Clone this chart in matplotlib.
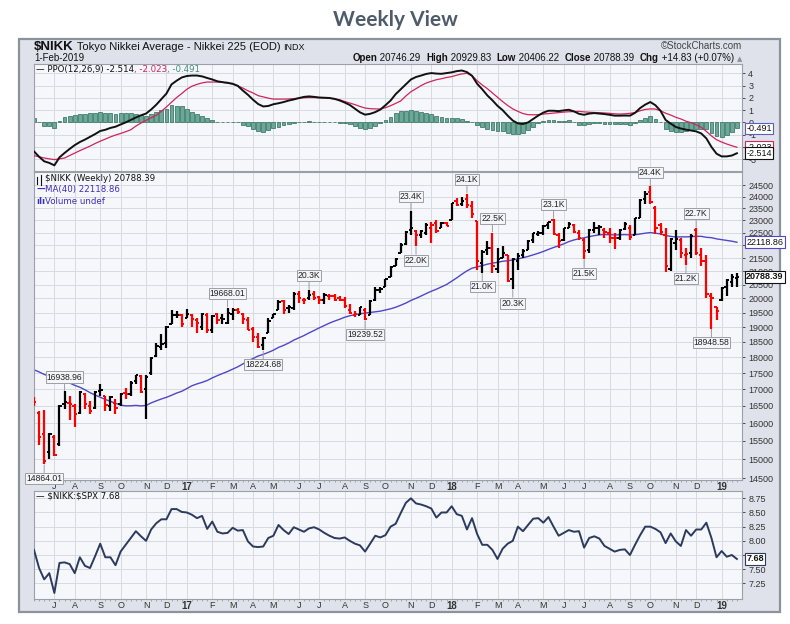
import numpy as np
import pandas as pd
import matplotlib
matplotlib.use('Agg')
import matplotlib.pyplot as plt
from matplotlib.offsetbox import TextArea, HPacker, AnchoredOffsetbox
from matplotlib.ticker import FixedLocator, NullLocator
from matplotlib.patches import Rectangle

plt.rcParams['font.family'] = ['Liberation Sans', 'DejaVu Sans']

# ---------------- data ----------------
week_start = pd.date_range('2016-06-06', periods=139, freq='7D')

prior_closes = [18264, 18070, 17880, 17725, 18438, 18291, 18825, 19083, 19265, 19597,
                19879, 19883, 19504, 19230, 18986, 18769, 19033, 17697, 17147, 16958,
                17518, 16819, 14952, 15967, 16188, 17014, 16938, 16724, 17002, 16164,
                15821, 16848, 17572, 16666, 16106, 16412, 16736, 16834, 16642]

opens = [16700, 16300, 15700, 15200, 15600, 15400, 16550, 16600, 16500, 16300,
         16850, 16500, 16450, 16950, 16800, 16500, 16600, 16550, 16900, 16850,
         17250, 17400, 17000, 17500, 18050, 18350, 18450, 19100, 19400, 19400,
         19300, 19400, 19250, 19000, 19400, 18900, 19450, 19300, 19150, 19450,
         19600, 19450, 19250, 18950, 18650, 18400, 18800, 19300, 19600, 19900,
         19650, 19650, 20150, 19950, 20000, 20150, 20050, 19950, 20100, 20100,
         20000, 19950, 19600, 19400, 19400, 19600, 19400, 19950, 20300, 20400,
         20800, 21200, 21700, 22050, 22600, 22550, 22400, 22500, 22700, 22900,
         22700, 22900, 23000, 23800, 23700, 23900, 23600, 22970, 21300, 21800,
         21900, 21100, 21500, 21600, 20700, 21400, 21600, 21800, 22200, 22450,
         22500, 22800, 23000, 22400, 22200, 22700, 22800, 22500, 22200, 21800,
         22600, 22700, 22600, 22500, 22300, 22300, 22650, 22700, 22400, 23100,
         23900, 24200, 23500, 22800, 22400, 21100, 22100, 22200, 21600, 21700,
         22600, 21600, 21400, 20100, 19700, 19950, 20400, 20600, 20746.29]
highs = [16750, 16350, 16390, 15730, 15650, 16530, 16938.96, 16800, 16550, 16950,
         16900, 16650, 16950, 17150, 16800, 16800, 16700, 16900, 17050, 17250,
         17450, 17450, 17450, 18000, 18450, 18750, 19050, 19590, 19550, 19450,
         19615, 19450, 19300, 19500, 19500, 19400, 19500, 19450, 19668.01, 19650,
         19650, 19500, 19350, 19000, 18800, 18650, 19300, 19450, 19950, 19950,
         19750, 20240, 20250, 20000, 20300, 20250, 20100, 20200, 20150, 20150,
         20100, 20050, 19800, 19550, 19700, 19650, 19950, 20400, 20400, 20700,
         21200, 21500, 22100, 22550, 23382, 22600, 22600, 22900, 22950, 23000,
         22950, 22950, 23730, 23950, 24000, 24129, 23800, 22970, 21800, 22150,
         22502, 21900, 21970, 21600, 21500, 21700, 21850, 22200, 22500, 22550,
         22800, 22950, 23050, 22500, 22700, 22950, 22850, 22600, 22300, 22650,
         22950, 22800, 22700, 22700, 22500, 22650, 22950, 22800, 23100, 23900,
         24250, 24448, 23600, 22900, 22700, 22300, 22600, 22300, 21900, 22450,
         22698, 21900, 21600, 20200, 19700, 20400, 20700, 20900, 20929.83]
lows = [16500, 15380, 14864.01, 15000, 15080, 15350, 16400, 16100, 15900, 16250,
        16400, 16260, 16400, 16800, 16350, 16350, 16250, 16500, 16700, 16800,
        17150, 16900, 16111, 17450, 18000, 18250, 18300, 19100, 19300, 19000,
        19300, 19000, 18800, 18900, 18800, 18800, 19100, 19100, 19100, 19250,
        19450, 19100, 18900, 18500, 18300, 18224.68, 18800, 19300, 19600, 19450,
        19500, 19600, 19850, 19800, 19950, 19950, 19800, 19800, 19950, 19900,
        19900, 19650, 19450, 19350, 19400, 19239.52, 19400, 19900, 20200, 20400,
        20800, 21200, 21700, 22000, 22400, 21972, 22300, 22400, 22100, 22500,
        22700, 22750, 23000, 23600, 23600, 23500, 23100, 21060, 20950, 21600,
        20940, 20937, 21500, 20600, 20347, 21050, 21500, 21800, 22100, 22350,
        22400, 22650, 22400, 21900, 22150, 22700, 22500, 22200, 21462, 21700,
        22500, 22400, 22300, 22100, 21850, 22200, 22600, 22200, 22400, 23100,
        23700, 23700, 22450, 22400, 20971, 21000, 21800, 21500, 21244, 21500,
        21600, 21200, 20000, 18948.58, 19250, 19900, 20100, 20400, 20406.22]
closes = [16601, 15600, 14952, 15682, 15106, 16497, 16627, 16569, 16254, 16919,
          16545, 16360, 16925, 16965, 16519, 16754, 16450, 16860, 16856, 17184,
          17446, 16905, 17374, 17967, 18381, 18426, 18996, 19401, 19427, 19114,
          19454, 19287, 19137, 19467, 18918, 19378, 19234, 19283, 19469, 19604,
          19521, 19262, 18909, 18664, 18335, 18620, 19197, 19445, 19883, 19590,
          19687, 20177, 20013, 19943, 20132, 20033, 19929, 20118, 20099, 19959,
          19952, 19729, 19470, 19452, 19691, 19274, 19909, 20296, 20356, 20690,
          21155, 21457, 22008, 22539, 22681, 22397, 22550, 22819, 22811, 22553,
          22902, 22765, 23714, 23653, 23808, 23632, 23274, 21383, 21720, 21893,
          21182, 21469, 21676, 20617, 21454, 21567, 21778, 22162, 22467, 22472,
          22758, 22930, 22450, 22171, 22694, 22851, 22516, 22304, 21788, 22597,
          22697, 22712, 22525, 22298, 22270, 22601, 22865, 22307, 23094, 23870,
          24120, 23784, 22694, 22532, 21184, 22243, 22250, 21680, 21646, 22351,
          21679, 21374, 20166, 20015, 19561, 20359, 20666, 20773.56, 20788.39]

# PPO(12,26,9) line and its signal line
ppo_line = [-2.36, -2.80, -3.17, -3.30, -3.50, -2.85, -2.49, -2.16, -1.85, -1.60,
            -1.40, -1.18, -0.95, -0.70, -0.60, -0.45, -0.35, -0.17, 0.00, 0.20,
            0.40, 0.58, 0.72, 1.05, 1.44, 1.90, 2.35, 3.10, 3.40, 3.66,
            3.78, 3.82, 3.82, 3.75, 3.62, 3.50, 3.35, 3.28, 3.23, 3.15,
            2.98, 2.60, 2.25, 1.85, 1.50, 1.30, 1.34, 1.48, 1.56, 1.66,
            1.78, 1.87, 1.98, 2.08, 2.12, 2.08, 2.03, 2.01, 1.99, 1.92,
            1.79, 1.62, 1.42, 1.12, 0.82, 0.63, 0.70, 0.84, 1.05, 1.40,
            1.78, 2.30, 2.70, 3.10, 3.50, 3.70, 3.82, 3.95, 4.02, 3.98,
            3.96, 4.02, 4.08, 4.18, 4.23, 4.10, 3.80, 3.15, 2.70, 2.20,
            1.80, 1.35, 1.00, 0.55, 0.15, -0.08, -0.13, 0.00, 0.28, 0.56,
            0.80, 0.95, 0.95, 0.92, 0.98, 1.03, 0.90, 0.70, 0.62, 0.72,
            0.76, 0.72, 0.68, 0.62, 0.55, 0.55, 0.56, 0.55, 0.78, 1.17,
            1.45, 1.66, 1.40, 0.95, 0.20, -0.10, -0.37, -0.50, -0.59, -0.66,
            -0.73, -0.90, -1.30, -2.00, -2.55, -2.77, -2.77, -2.70, -2.514]
ppo_signal = [-2.71, -2.80, -2.90, -2.97, -3.03, -2.97, -2.90, -2.70, -2.49, -2.30,
              -2.12, -1.93, -1.72, -1.53, -1.36, -1.18, -1.03, -0.90, -0.76, -0.60,
              -0.30, -0.05, 0.17, 0.38, 0.58, 0.90, 1.26, 1.65, 2.03, 2.35,
              2.70, 2.95, 3.10, 3.22, 3.29, 3.29, 3.29, 3.27, 3.20, 3.12,
              2.98, 2.80, 2.58, 2.40, 2.18, 2.08, 1.98, 1.90, 1.90, 1.90,
              1.91, 1.94, 1.98, 2.01, 2.03, 2.03, 2.01, 2.00, 1.97, 1.91,
              1.85, 1.70, 1.58, 1.45, 1.30, 1.17, 1.12, 1.10, 1.09, 1.20,
              1.36, 1.55, 1.75, 2.15, 2.50, 2.75, 3.00, 3.21, 3.35, 3.48,
              3.56, 3.66, 3.73, 3.85, 3.95, 4.00, 3.80, 3.40, 3.05, 2.75,
              2.40, 2.05, 1.70, 1.38, 1.10, 0.90, 0.72, 0.63, 0.62, 0.63,
              0.68, 0.72, 0.76, 0.80, 0.84, 0.87, 0.88, 0.90, 0.86, 0.83,
              0.81, 0.79, 0.77, 0.74, 0.70, 0.68, 0.70, 0.74, 0.80, 0.95,
              1.06, 1.10, 1.09, 0.95, 0.75, 0.60, 0.42, 0.28, 0.10, -0.02,
              -0.19, -0.40, -0.73, -1.10, -1.41, -1.60, -1.76, -1.90, -2.023]

ratio = [7.84, 7.52, 7.32, 7.43, 7.08, 7.61, 7.62, 7.59, 7.43, 7.71,
         7.56, 7.52, 7.73, 7.95, 7.71, 7.71, 7.57, 7.81, 7.93, 8.05,
         8.17, 8.08, 8.00, 8.20, 8.31, 8.38, 8.38, 8.56, 8.56, 8.51,
         8.50, 8.46, 8.40, 8.44, 8.21, 8.34, 8.16, 8.13, 8.14, 8.23,
         8.18, 8.19, 7.99, 7.90, 7.89, 7.90, 8.05, 8.09, 8.28, 8.19,
         8.12, 8.24, 8.20, 8.16, 8.22, 8.24, 8.20, 8.14, 8.09, 8.05,
         8.04, 8.06, 8.00, 7.95, 7.92, 7.81, 7.95, 8.09, 8.06, 8.10,
         8.25, 8.30, 8.49, 8.67, 8.75, 8.66, 8.64, 8.61, 8.57, 8.41,
         8.50, 8.50, 8.61, 8.47, 8.44, 8.20, 8.40, 8.12, 7.93, 7.93,
         7.84, 7.68, 7.86, 7.95, 8.00, 8.25, 8.17, 8.28, 8.39, 8.40,
         8.32, 8.42, 8.25, 8.09, 8.14, 8.19, 8.16, 8.17, 7.88, 8.05,
         8.08, 8.04, 7.91, 7.86, 7.81, 7.84, 7.85, 7.75, 7.93, 8.10,
         8.25, 8.25, 8.21, 8.15, 7.96, 8.13, 7.99, 7.91, 8.19, 8.09,
         8.20, 8.20, 8.32, 8.05, 7.71, 7.82, 7.72, 7.75, 7.68]

# labelled highs / lows: (bar index, side, text)
hl_labels = [(2, 'L', '14864.01'), (6, 'H', '16938.96'), (38, 'H', '19668.01'),
             (45, 'L', '18224.68'), (54, 'H', '20.3K'), (65, 'L', '19239.52'),
             (74, 'H', '23.4K'), (75, 'L', '22.0K'), (85, 'H', '24.1K'),
             (88, 'L', '21.0K'), (90, 'H', '22.5K'), (94, 'L', '20.3K'),
             (102, 'H', '23.1K'), (108, 'L', '21.5K'), (121, 'H', '24.4K'),
             (128, 'L', '21.2K'), (130, 'H', '22.7K'), (133, 'L', '18948.58')]

price_ticks = list(range(14500, 25000, 500))
ppo_ticks = [-3, -2, -1, 0, 1, 2, 3, 4]
ratio_ticks = [7.25, 7.50, 7.75, 8.00, 8.25, 8.50, 8.75]

last_ppo, last_sig, last_hist = -2.514, -2.023, -0.491
last_ma, last_close, last_ratio = 22118.86, 20788.39, 7.68

# ---------------- indicators ----------------
allc = pd.Series(prior_closes + closes, dtype=float)
n0 = len(prior_closes)
ma40 = allc.rolling(40).mean().values[n0:]
ppo = np.array(ppo_line)
sig = np.array(ppo_signal)
hist = ppo - sig

n = len(closes)
x = np.arange(n)
prev = np.array([prior_closes[-1]] + closes[:-1])
cols = np.where(np.array(closes) < prev, '#ff0000', '#000000')

# ---------------- figure ----------------
W, H = 790, 624
fig = plt.figure(figsize=(W / 100, H / 100), dpi=100)
fig.patch.set_facecolor('white')

def fx(px):
    return px / W

def fy(py):
    return 1 - py / H

fig.patches.append(Rectangle((fx(19), fy(612)), fx(761), 573 / H, transform=fig.transFigure,
                             fc='#dfe2ea', ec='#8c929c', lw=1.6, zorder=-5))

fig.text(0.5, fy(20), 'Weekly View', ha='center', va='center', fontsize=15,
         fontweight='bold', family='Lato', color='#4d5b6b')

L, R = 34, 742
ax_ppo = fig.add_axes([fx(L), fy(171), fx(R - L), 107 / H])
ax = fig.add_axes([fx(L), fy(480), fx(R - L), 308 / H])
ax_r = fig.add_axes([fx(L), fy(599), fx(R - L), 108 / H])

xlim = (0.0, 139.0)
tick_idx = [i for i in range(1, n) if week_start[i].month != week_start[i - 1].month]
tick_lab = [('%02d' % (week_start[i].year % 100)) if week_start[i].month == 1
            else week_start[i].strftime('%b')[0] for i in tick_idx]

grid_c = '#d6dae1'
for a in (ax_ppo, ax, ax_r):
    a.set_facecolor('#f6f7fb')
    a.set_xlim(*xlim)
    for s in a.spines.values():
        s.set_color('#9aa0a8')
        s.set_linewidth(0.8)
    a.yaxis.tick_right()
    a.tick_params(axis='y', labelsize=6.5, length=2.5, pad=2, colors='#333333', width=0.6)
    a.set_xticks(tick_idx)
    a.xaxis.set_minor_locator(FixedLocator(list(range(n))))
    a.tick_params(axis='x', which='major', length=0, labelsize=6.5, pad=1.5, colors='#333333')
    a.tick_params(axis='x', which='minor', length=1.5, width=0.5, color='#8a8f98')
    a.grid(True, which='major', color=grid_c, lw=0.7)
    a.set_axisbelow(True)

def set_month_labels(a, show):
    if show:
        a.set_xticklabels(tick_lab)
        for t, lab in zip(a.get_xticklabels(), tick_lab):
            if lab.isdigit():
                t.set_fontweight('bold')
                t.set_fontsize(7)
    else:
        a.set_xticklabels([])

set_month_labels(ax_ppo, False)
set_month_labels(ax, True)
set_month_labels(ax_r, True)
ax_ppo.tick_params(axis='x', which='minor', length=0)

# ---- PPO panel ----
ax_ppo.bar(x, hist, width=0.75, color='#6aa897', edgecolor='#2d6a58', lw=0.5, zorder=2)
ax_ppo.plot(x, sig, color='#d0245a', lw=0.9, zorder=3)
ax_ppo.plot(x, ppo, color='#111111', lw=1.4, zorder=4)
ax_ppo.set_ylim(-3.96, 4.76)
ax_ppo.set_yticks(ppo_ticks)
ax_ppo.set_yticklabels([str(t) for t in ppo_ticks])

def box_label(a, val, text, ec, bold=False, fc='white', tc='#111111'):
    a.annotate(text, xy=(1.0, val), xycoords=('axes fraction', 'data'),
               xytext=(3, 0), textcoords='offset points', ha='left', va='center',
               fontsize=6.5, fontweight='bold' if bold else 'normal', color=tc,
               bbox=dict(boxstyle='square,pad=0.15', fc=fc, ec=ec, lw=0.8),
               annotation_clip=False, zorder=10)

box_label(ax_ppo, last_hist, '%.3f' % last_hist, '#5a5fc0')
box_label(ax_ppo, last_sig, '%.3f' % last_sig, '#d0245a')
box_label(ax_ppo, last_ppo, '%.3f' % last_ppo, '#111111')

def rich(a, pieces, fs=6.2, fam='DejaVu Sans', loc_xy=(0.003, 0.995)):
    boxes = [TextArea(t, textprops=dict(color=c, fontsize=fs, family=fam,
                                        fontweight=w)) for t, c, w in pieces]
    pack = HPacker(children=boxes, align='baseline', pad=0, sep=0)
    ab = AnchoredOffsetbox(loc='upper left', child=pack, pad=0, borderpad=0, frameon=False,
                           bbox_to_anchor=loc_xy, bbox_transform=a.transAxes)
    a.add_artist(ab)

rich(ax_ppo, [('\u2014 PPO(12,26,9) %.3f' % last_ppo, '#111111', 'normal'),
              (', %.3f' % last_sig, '#d0245a', 'normal'),
              (', %.3f' % last_hist, '#3f8f7a', 'normal')])

# ---- main price panel ----
ax.set_yscale('log')
ax.set_ylim(14450, 25080)
ax.yaxis.set_major_locator(FixedLocator(price_ticks))
ax.yaxis.set_minor_locator(NullLocator())
ax.set_yticklabels([str(t) for t in price_ticks])
ax.plot(x, ma40, color='#5046c8', lw=1.0, zorder=2)
ax.vlines(x, lows, highs, colors=cols, lw=1.6, zorder=3)
ax.hlines(opens, x - 0.45, x, colors=cols, lw=1.4, zorder=3)
ax.hlines(closes, x, x + 0.45, colors=cols, lw=1.4, zorder=3)

for i, side, txt in hl_labels:
    if side == 'H':
        yv, dy, va = highs[i], 7, 'bottom'
    else:
        yv, dy, va = lows[i], -7, 'top'
    ax.annotate(txt, xy=(i, yv), xytext=(0, dy), textcoords='offset points',
                ha='center', va=va, fontsize=6.2, color='#222222',
                bbox=dict(boxstyle='square,pad=0.12', fc='#f4f5f8', ec='#9a9ea6', lw=0.7),
                arrowprops=dict(arrowstyle='-', color='#9a9ea6', lw=0.7, shrinkA=0, shrinkB=0.5),
                zorder=6, annotation_clip=False)

box_label(ax, last_ma, '%.2f' % last_ma, '#5046c8')
box_label(ax, last_close, '%.2f' % last_close, '#111111', bold=True)

# small OHLC-bar icon before the price legend
for xi, (y0, y1) in zip([0.0045, 0.0095], [(0.962, 0.985), (0.958, 0.990)]):
    ax.plot([xi, xi], [y0, y1], color='#111111', lw=0.8, transform=ax.transAxes,
            clip_on=False, zorder=7)
rich(ax, [('\\$NIKK (Weekly) %.2f' % last_close, '#111111', 'normal')], loc_xy=(0.016, 0.995))
rich(ax, [('\u2014', '#3a2fb8', 'bold'), ('MA(40) %.2f' % last_ma, '#3a2fb8', 'normal')],
     loc_xy=(0.003, 0.957))
rich(ax, [('\u0131l\u0131', '#3a2fb8', 'bold'), ('Volume undef', '#3a2fb8', 'normal')],
     loc_xy=(0.003, 0.92))

# ---- ratio panel ----
ax_r.plot(x, ratio, color='#2c3a5e', lw=1.4, zorder=3)
ax_r.set_ylim(6.974, 8.879)
ax_r.set_yticks(ratio_ticks)
ax_r.set_yticklabels(['%.2f' % t for t in ratio_ticks])
box_label(ax_r, last_ratio, '%.2f' % last_ratio, '#2c3a5e', bold=True)
rich(ax_r, [('\u2014 \\$NIKK:\\$SPX %.2f' % last_ratio, '#111111', 'normal')])

# ---- header ----
hdr1 = [TextArea('\\$NIKK', textprops=dict(color='#111111', fontsize=9.5, fontweight='bold')),
        TextArea(' Tokyo Nikkei Average - Nikkei 225 (EOD) ',
                 textprops=dict(color='#111111', fontsize=8)),
        TextArea('INDX', textprops=dict(color='#111111', fontsize=6.5))]
pack1 = HPacker(children=hdr1, align='baseline', pad=0, sep=0)
fig.add_artist(AnchoredOffsetbox(loc='center left', child=pack1, pad=0, borderpad=0,
                                 frameon=False, bbox_to_anchor=(fx(L), fy(47)),
                                 bbox_transform=fig.transFigure))
fig.text(fx(L), fy(58), '1-Feb-2019', fontsize=7, va='center', color='#111111')
fig.text(fx(742), fy(46), '\u00a9StockCharts.com', fontsize=7, va='center', ha='right',
         color='#444444')

hdr = [('Open', 'bold'), (' 20746.29  ', 'normal'), ('High', 'bold'), (' 20929.83  ', 'normal'),
       ('Low', 'bold'), (' 20406.22  ', 'normal'), ('Close', 'bold'), (' 20788.39  ', 'normal'),
       ('Chg', 'bold'), (' +14.83 (+0.07%) ', 'normal')]
boxes = [TextArea(t, textprops=dict(color='#111111', fontsize=7, fontweight=w)) for t, w in hdr]
boxes.append(TextArea('\u25b2', textprops=dict(color='#8a8f98', fontsize=5, family='DejaVu Sans')))
pack = HPacker(children=boxes, align='baseline', pad=0, sep=0)
fig.add_artist(AnchoredOffsetbox(loc='center right', child=pack, pad=0, borderpad=0,
                                 frameon=False, bbox_to_anchor=(fx(742), fy(58)),
                                 bbox_transform=fig.transFigure))

fig.savefig('out.png', dpi=100, facecolor='white')
